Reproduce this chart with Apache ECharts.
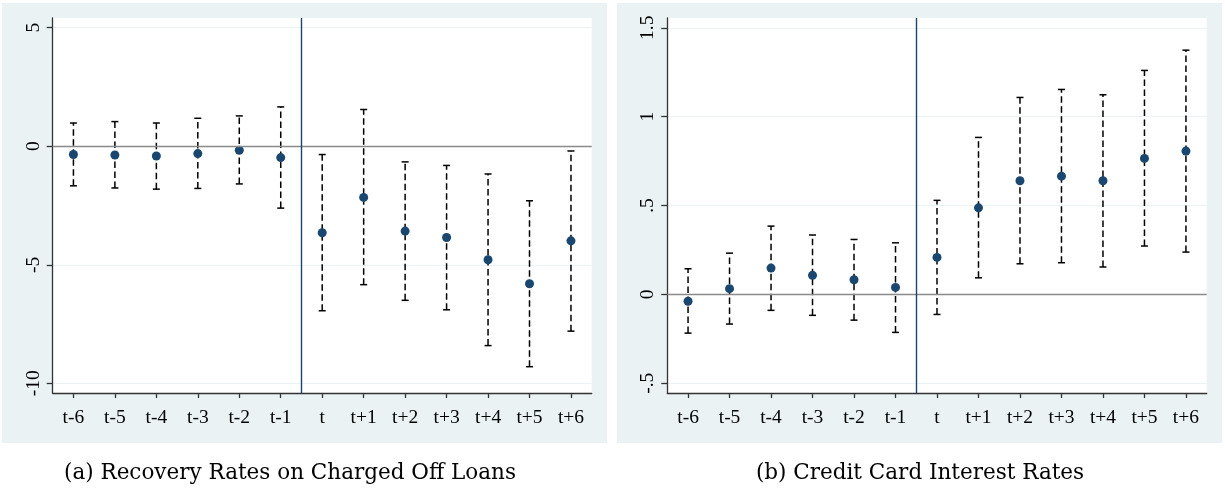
<!DOCTYPE html>
<html><head><meta charset="utf-8">
<script src="https://cdn.jsdelivr.net/npm/echarts@6/dist/echarts.min.js"></script>
<style>html,body{margin:0;padding:0;background:#fff}#c{width:1225px;height:493px}</style>
</head><body><div id="c"></div>
<script>
var categories = ['t-6','t-5','t-4','t-3','t-2','t-1','t','t+1','t+2','t+3','t+4','t+5','t+6'];
// Panel (a): Recovery Rates on Charged Off Loans
var aPoint = [-0.35,-0.37,-0.41,-0.31,-0.17,-0.48,-3.65,-2.16,-3.58,-3.85,-4.79,-5.80,-3.99];
var aUpper = [0.98,1.04,0.98,1.18,1.28,1.66,-0.35,1.55,-0.66,-0.81,-1.17,-2.30,-0.20];
var aLower = [-1.67,-1.76,-1.81,-1.78,-1.59,-2.61,-6.94,-5.84,-6.50,-6.90,-8.41,-9.30,-7.80];
var aTicks = [-10,-5,0,5];
var aTickLabels = ['-10','-5','0','5'];
// Panel (b): Credit Card Interest Rates
var bPoint = [-0.039,0.032,0.148,0.107,0.082,0.039,0.208,0.487,0.639,0.665,0.639,0.765,0.806];
var bUpper = [0.144,0.232,0.384,0.334,0.309,0.290,0.529,0.883,1.108,1.153,1.123,1.260,1.374];
var bLower = [-0.218,-0.167,-0.090,-0.118,-0.145,-0.214,-0.113,0.093,0.172,0.178,0.154,0.272,0.238];
var bTicks = [-0.5,0,0.5,1,1.5];
var bTickLabels = ['-.5','0','.5','1','1.5'];
var captions = ['(a) Recovery Rates on Charged Off Loans','(b) Credit Card Interest Rates'];

var NAVY = '#1a476f', BG = '#eaf2f3', AX = '#333333';
var idx = categories.map(function(_, i){ return i; });
var eventX = 5.5; // boundary between t-1 and t

function xAxisCfg(gi){
  return {
    type:'value', gridIndex:gi, min:-0.5, max:categories.length-0.5,
    axisLine:{show:true,onZero:false,lineStyle:{color:AX,width:1.3}},
    axisTick:{show:true,length:5,customValues:idx,lineStyle:{color:AX,width:1.3}},
    axisLabel:{customValues:idx,formatter:function(v){return categories[Math.round(v)];},
      fontFamily:'Liberation Serif',fontSize:19.5,color:'#000',margin:15},
    splitLine:{show:false}
  };
}
function yAxisCfg(gi, min, max, ticks, labels){
  return {
    type:'value', gridIndex:gi, min:min, max:max,
    axisLine:{show:true,onZero:false,lineStyle:{color:AX,width:1.3}},
    axisTick:{show:true,length:6,customValues:ticks,lineStyle:{color:AX,width:1.3}},
    axisLabel:{customValues:ticks,rotate:90,formatter:function(v){
        var k = ticks.indexOf(v); return k>=0?labels[k]:'';},
      fontFamily:'Liberation Serif',fontSize:19.5,color:'#000',margin:9},
    splitLine:{show:true,lineStyle:{color:BG,width:1.2}}
  };
}
function errData(lo, hi){ return idx.map(function(i){ return [i, lo[i], hi[i]]; }); }
function renderErr(params, api){
  var x = api.value(0);
  var p1 = api.coord([x, api.value(1)]);
  var p2 = api.coord([x, api.value(2)]);
  var cw = 3.5;
  var st = {stroke:'#000', lineWidth:1.5};
  return {type:'group', children:[
    {type:'line', shape:{x1:p1[0],y1:p1[1],x2:p2[0],y2:p2[1]}, style:{stroke:'#000',lineWidth:1.5,lineDash:[6.5,3.5]}},
    {type:'line', shape:{x1:p1[0]-cw,y1:p1[1],x2:p1[0]+cw,y2:p1[1]}, style:st},
    {type:'line', shape:{x1:p2[0]-cw,y1:p2[1],x2:p2[0]+cw,y2:p2[1]}, style:st}
  ]};
}
function series(gi, pts, lo, hi){
  return [
    {type:'custom', xAxisIndex:gi, yAxisIndex:gi, data:errData(lo,hi), renderItem:renderErr, z:3, silent:true,
     markLine:{silent:true,symbol:'none',label:{show:false},animation:false,
       data:[{yAxis:0,lineStyle:{color:'#8a8a8a',width:1.4,type:'solid'}},
             {xAxis:eventX,lineStyle:{color:NAVY,width:1.4,type:'solid'}}]}},
    {type:'scatter', xAxisIndex:gi, yAxisIndex:gi, data:idx.map(function(i){return [i,pts[i]];}),
     symbol:'circle', symbolSize:9, itemStyle:{color:NAVY,opacity:1}, z:4, silent:true}
  ];
}

var chart = echarts.init(document.getElementById('c'), null, {renderer:'canvas'});
chart.setOption({
  animation:false,
  backgroundColor:'#fff',
  graphic:[
    {type:'rect', shape:{x:2,y:3,width:605,height:440}, style:{fill:BG}, z:-10, silent:true},
    {type:'rect', shape:{x:617,y:3,width:605,height:440}, style:{fill:BG}, z:-10, silent:true},
    {type:'text', x:290, y:473, style:{text:captions[0], fontFamily:'DejaVu Serif', fontSize:21.5, fill:'#000', textAlign:'center', textVerticalAlign:'middle'}},
    {type:'text', x:920, y:473, style:{text:captions[1], fontFamily:'DejaVu Serif', fontSize:21.5, fill:'#000', textAlign:'center', textVerticalAlign:'middle'}}
  ],
  grid:[
    {left:52.7, top:18, width:539, height:375, show:true, backgroundColor:'#fff', borderWidth:0},
    {left:667.3, top:18, width:539.4, height:375, show:true, backgroundColor:'#fff', borderWidth:0}
  ],
  xAxis:[xAxisCfg(0), xAxisCfg(1)],
  yAxis:[yAxisCfg(0,-10.41,5.41,aTicks,aTickLabels), yAxisCfg(1,-0.555,1.555,bTicks,bTickLabels)],
  series: series(0,aPoint,aLower,aUpper).concat(series(1,bPoint,bLower,bUpper))
});
</script></body></html>
